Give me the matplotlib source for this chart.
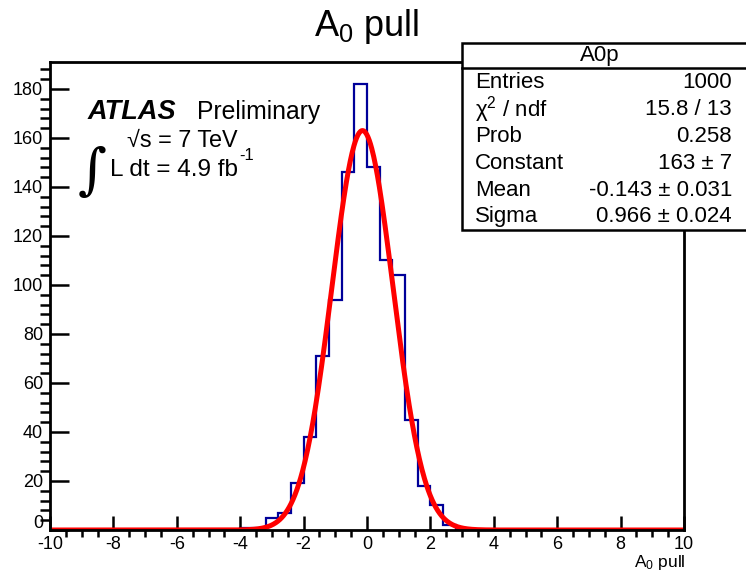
import numpy as np
import matplotlib
matplotlib.use("Agg")
import matplotlib.pyplot as plt
from matplotlib.patches import Rectangle
from matplotlib.lines import Line2D
from matplotlib.ticker import MultipleLocator, FuncFormatter

plt.rcParams['font.family'] = ['Liberation Sans', 'DejaVu Sans']
plt.rcParams['mathtext.fontset'] = 'custom'
plt.rcParams['mathtext.rm'] = 'Liberation Sans'
plt.rcParams['mathtext.it'] = 'Liberation Sans:italic'
plt.rcParams['axes.unicode_minus'] = False

# histogram: 50 bins of width 0.4 from -10 to 10
bin_edges = np.linspace(-10, 10, 51)
bin_lo = [-4.0, -3.6, -3.2, -2.8, -2.4, -2.0, -1.6, -1.2, -0.8, -0.4,
          0.0, 0.4, 0.8, 1.2, 1.6, 2.0, 2.4]
bin_counts = [1, 1, 5, 7, 19, 38, 71, 94, 146, 182,
              148, 110, 104, 45, 18, 10, 2]

# gaussian fit results
fit_const = 163.0
fit_mean = -0.143
fit_sigma = 0.966

stat_names = ["Entries", "χ$^{2}$ / ndf", "Prob", "Constant", "Mean", "Sigma"]
stat_values = ["1000", "15.8 / 13", "0.258", "163 ± 7", "-0.143 ± 0.031", "0.966 ± 0.024"]

counts = np.zeros(50)
for lo, c in zip(bin_lo, bin_counts):
    counts[int(round((lo + 10) / 0.4))] = c

W, H = 746, 573
fig = plt.figure(figsize=(W / 100, H / 100), dpi=100)
ax = fig.add_axes([50 / W, 43 / H, 634 / W, 468 / H])

ax.stairs(counts, bin_edges, color='#000099', lw=1.6, baseline=0)
xs = np.linspace(-10, 10, 1000)
ax.plot(xs, fit_const * np.exp(-0.5 * ((xs - fit_mean) / fit_sigma) ** 2),
        color='#ff0000', lw=3.6, solid_capstyle='butt')

ax.set_xlim(-10, 10)
ax.set_ylim(0, 191)
ax.xaxis.set_major_locator(MultipleLocator(2))
ax.xaxis.set_minor_locator(MultipleLocator(0.5))
ax.yaxis.set_major_locator(MultipleLocator(20))
ax.yaxis.set_minor_locator(MultipleLocator(4))
# the y "0" is drawn separately, a bit higher, so it clears the "-10"
ax.yaxis.set_major_formatter(FuncFormatter(lambda v, p: "" if v == 0 else f"{v:g}"))
ax.annotate("0", xy=(0, 0), xycoords='axes fraction', xytext=(-5, 4.5),
            textcoords='offset points', ha='right', va='center', fontsize=13)
for s in ax.spines.values():
    s.set_linewidth(2)
ax.tick_params(direction='in', width=1.8, labelsize=13, top=False, right=False)
ax.tick_params(axis='y', which='major', length=14, pad=5)
ax.tick_params(axis='y', which='minor', length=7, width=1.8)
ax.tick_params(axis='x', which='major', length=10, pad=4.5)
ax.tick_params(axis='x', which='minor', length=5, width=1.8)

# titles
fig.text(367 / W, 1 - 27 / H, r"A$_{\mathrm{0}}$ pull", fontsize=26, ha='center', va='center')
fig.text(686 / W, 1 - 567 / H, r"A$_{\mathrm{0}}$ pull", fontsize=12.5, ha='right', va='baseline')

# ATLAS label
fig.text(88 / W, 1 - 112 / H, "ATLAS", fontsize=19.5, fontweight='bold', fontstyle='italic', va='center')
fig.text(197 / W, 1 - 112 / H, "Preliminary", fontsize=17.8, va='center')
fig.text(127 / W, 1 - 140 / H, "√s = 7 TeV", fontsize=16.8, va='center')
fig.text(78 / W, 1 - 173 / H, "∫", fontsize=40, family='DejaVu Serif', va='center')
fig.text(110 / W, 1 - 170 / H, "L dt = 4.9 fb", fontsize=17.5, va='center')
fig.text(239 / W, 1 - 155 / H, "-1", fontsize=12, va='center')

# stats box
box_l, box_t, box_b = 462, 43, 230
fig.patches.append(Rectangle((box_l / W, 1 - box_b / H), (W + 20 - box_l) / W, (box_b - box_t) / H,
                             transform=fig.transFigure, facecolor='white', edgecolor='black',
                             lw=1.8, zorder=5))
fig.lines.append(Line2D([box_l / W, 1], [1 - 68 / H, 1 - 68 / H], transform=fig.transFigure,
                        color='black', lw=1.8, zorder=6))
fig.text(600 / W, 1 - 56 / H, "A0p", fontsize=16, ha='center', va='center', zorder=7)
for i, (name, val) in enumerate(zip(stat_names, stat_values)):
    y = 1 - (83 + i * 26.8) / H
    fig.text(475 / W, y, name, fontsize=16, ha='left', va='center', zorder=7)
    fig.text(732 / W, y, val, fontsize=16, ha='right', va='center', zorder=7)

fig.savefig("out.png", dpi=100)
